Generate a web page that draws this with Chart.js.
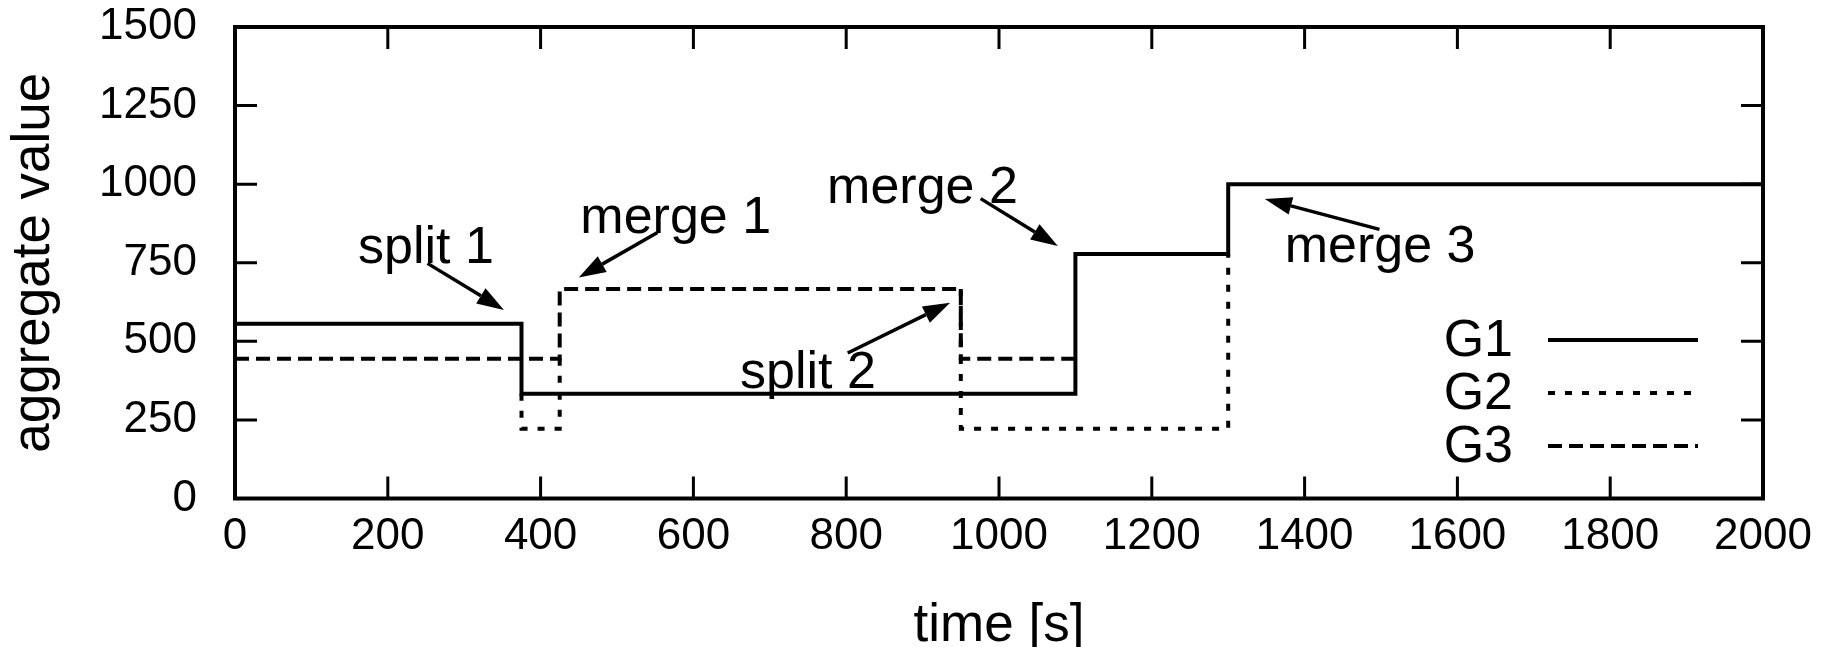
<!DOCTYPE html>
<html>
<head>
<meta charset="utf-8">
<script src="https://cdn.jsdelivr.net/npm/chart.js@4.4.1/dist/chart.umd.min.js"></script>
<style>
  body { margin: 0; background: #fff; }
  canvas { display: block; }
</style>
</head>
<body>
<canvas id="chart" width="1839" height="647"></canvas>
<script>
// step series, values (multiples of 1000/9)
const g1Time = [0, 375, 1100, 1300, 2000];
const g1Value = [555.6, 333.3, 777.8, 1000, 1000];

const g2Time = [375, 375, 425, 700, 950, 950, 1300];
const g2Value = [333.3, 222.2, 444.4, null, 666.7, 222.2, 777.8];

const g3Time = [0, 425, 950, 1100];
const g3Value = [444.4, 666.7, 444.4, 444.4];

const seriesNames = ['G1', 'G2', 'G3'];

const xTicks = [0, 200, 400, 600, 800, 1000, 1200, 1400, 1600, 1800, 2000];
const yTicks = [0, 250, 500, 750, 1000, 1250, 1500];

// annotation labels: text position and arrow (tail -> head), in data units
const noteText = ['split 1', 'merge 1', 'merge 2', 'split 2', 'merge 3'];
const noteAt = [[161, 749], [452, 844], [775, 940], [661, 351], [1374, 752]];
const arrowFrom = [[252, 748], [553, 846], [976, 954], [802, 463], [1498, 856]];
const arrowTo = [[352, 600], [450, 703], [1077, 803], [936, 623], [1348, 953]];

const FONT = "'Liberation Sans', Arial, Helvetica, sans-serif";
const TICK = 22;
const LW = 4;

function toPoints(xs, ys) {
  return xs.map((x, i) => ({ x, y: ys[i] }));
}

// gnuplot-like frame with inward ticks on all four sides
const frame = {
  id: 'frame',
  afterDatasetsDraw(chart) {
    const { ctx, chartArea: a, scales: { x, y } } = chart;
    ctx.save();
    ctx.strokeStyle = '#000';
    ctx.lineWidth = 3;
    ctx.beginPath();
    x.ticks.forEach(t => {
      const px = x.getPixelForValue(t.value);
      ctx.moveTo(px, a.bottom); ctx.lineTo(px, a.bottom - TICK);
      ctx.moveTo(px, a.top); ctx.lineTo(px, a.top + TICK);
    });
    y.ticks.forEach(t => {
      const py = y.getPixelForValue(t.value);
      ctx.moveTo(a.left, py); ctx.lineTo(a.left + TICK, py);
      ctx.moveTo(a.right, py); ctx.lineTo(a.right - TICK, py);
    });
    ctx.stroke();
    ctx.lineWidth = LW;
    ctx.strokeRect(a.left, a.top, a.right - a.left, a.bottom - a.top);
    ctx.restore();
  }
};

// text labels with filled arrowheads
const notes = {
  id: 'notes',
  afterDatasetsDraw(chart) {
    const { ctx, scales: { x, y } } = chart;
    ctx.save();
    ctx.fillStyle = '#000';
    ctx.strokeStyle = '#000';
    ctx.font = '52px ' + FONT;
    ctx.textAlign = 'left';
    ctx.textBaseline = 'alphabetic';
    noteText.forEach((txt, i) => {
      ctx.fillText(txt, x.getPixelForValue(noteAt[i][0]), y.getPixelForValue(noteAt[i][1]));

      const x0 = x.getPixelForValue(arrowFrom[i][0]);
      const y0 = y.getPixelForValue(arrowFrom[i][1]);
      const x1 = x.getPixelForValue(arrowTo[i][0]);
      const y1 = y.getPixelForValue(arrowTo[i][1]);
      const ang = Math.atan2(y1 - y0, x1 - x0);
      const len = 27, half = 9;
      const bx = x1 - len * Math.cos(ang);
      const by = y1 - len * Math.sin(ang);

      ctx.lineWidth = 3.5;
      ctx.beginPath();
      ctx.moveTo(x0, y0);
      ctx.lineTo(bx, by);
      ctx.stroke();

      ctx.beginPath();
      ctx.moveTo(x1, y1);
      ctx.lineTo(bx + half * Math.sin(ang), by - half * Math.cos(ang));
      ctx.lineTo(bx - half * Math.sin(ang), by + half * Math.cos(ang));
      ctx.closePath();
      ctx.fill();
    });
    ctx.restore();
  }
};

// key inside the plot: label on the left, line sample on the right
const key = {
  id: 'key',
  afterDatasetsDraw(chart) {
    const { ctx, chartArea: a } = chart;
    ctx.save();
    ctx.font = '52px ' + FONT;
    ctx.fillStyle = '#000';
    ctx.textAlign = 'right';
    ctx.textBaseline = 'middle';
    chart.data.datasets.forEach((ds, i) => {
      const cy = a.top + 313 + i * 53;
      ctx.fillText(ds.label, a.right - 250, cy + 2);
      ctx.strokeStyle = ds.borderColor;
      ctx.lineWidth = ds.borderWidth;
      ctx.setLineDash(ds.borderDash || []);
      ctx.beginPath();
      ctx.moveTo(a.right - 215, cy);
      ctx.lineTo(a.right - 65, cy);
      ctx.stroke();
    });
    ctx.restore();
  }
};

const plain = v => String(v);

new Chart(document.getElementById('chart'), {
  type: 'line',
  data: {
    datasets: [
      {
        label: seriesNames[0],
        data: toPoints(g1Time, g1Value),
        borderColor: '#000',
        borderWidth: LW,
        borderDash: [],
        stepped: 'before',
        pointRadius: 0
      },
      {
        label: seriesNames[1],
        data: toPoints(g2Time, g2Value),
        borderColor: '#000',
        borderWidth: LW,
        borderDash: [7, 10],
        stepped: 'before',
        pointRadius: 0,
        spanGaps: false
      },
      {
        label: seriesNames[2],
        data: toPoints(g3Time, g3Value),
        borderColor: '#000',
        borderWidth: LW,
        borderDash: [14, 7],
        stepped: 'before',
        pointRadius: 0
      }
    ]
  },
  options: {
    responsive: false,
    animation: false,
    devicePixelRatio: 1,
    layout: { padding: { top: 27, right: 76, left: 0, bottom: 0 } },
    plugins: {
      legend: { display: false },
      tooltip: { enabled: false }
    },
    scales: {
      x: {
        type: 'linear',
        min: 0,
        max: 2000,
        afterFit: s => { s.height = 148.5; },
        afterBuildTicks: s => { s.ticks = xTicks.map(v => ({ value: v })); },
        grid: { display: false, drawTicks: false },
        border: { display: false },
        ticks: {
          padding: 12,
          color: '#000',
          maxRotation: 0,
          callback: plain,
          font: { family: FONT, size: 44 }
        },
        title: {
          display: true,
          text: 'time [s]',
          color: '#000',
          padding: 0,
          font: { family: FONT, size: 53, lineHeight: 0.78 }
        }
      },
      y: {
        type: 'linear',
        min: 0,
        max: 1500,
        afterFit: s => { s.width = 235; s.paddingTop = 0; s.paddingBottom = 0; },
        afterBuildTicks: s => { s.ticks = yTicks.map(v => ({ value: v })); },
        grid: { display: false, drawTicks: false },
        border: { display: false },
        ticks: {
          padding: 38,
          color: '#000',
          callback: plain,
          font: { family: FONT, size: 44 }
        },
        title: {
          display: true,
          text: 'aggregate value',
          color: '#000',
          padding: 3,
          font: { family: FONT, size: 53, lineHeight: 1.2 }
        }
      }
    }
  },
  plugins: [frame, notes, key]
});
</script>
</body>
</html>
